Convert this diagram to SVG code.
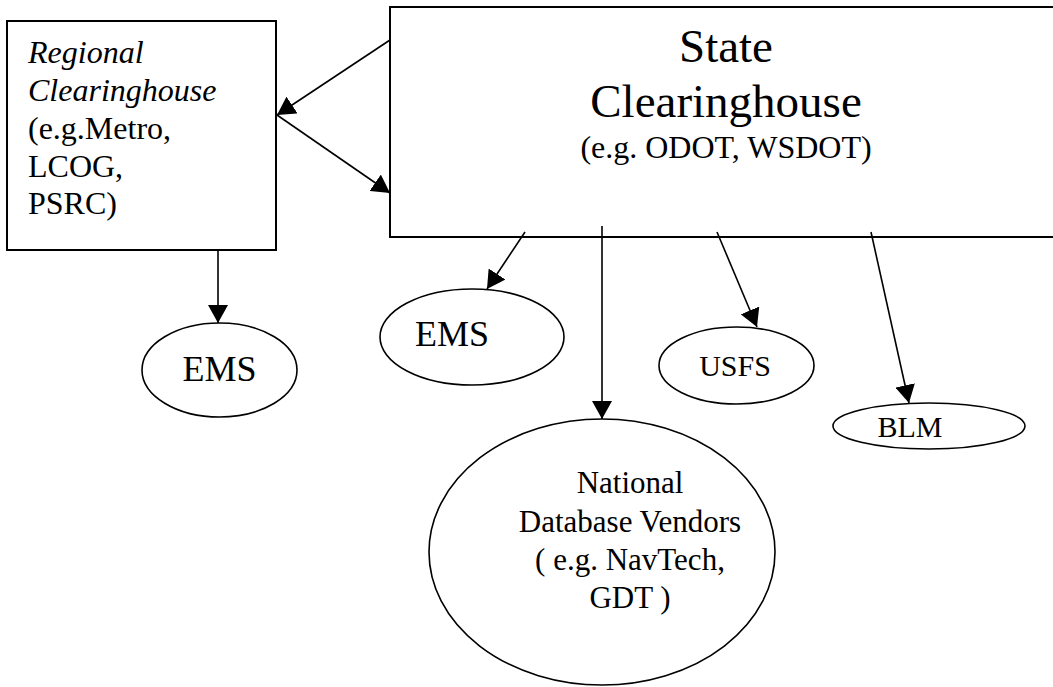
<svg xmlns="http://www.w3.org/2000/svg" width="1053" height="687" viewBox="0 0 1053 687">
<style>
.box{fill:#fff;stroke:#000;stroke-width:2}
.ell{fill:#fff;stroke:#000;stroke-width:1.6}
.t{font-family:"Liberation Serif","Times New Roman",serif;fill:#000}
.c{stroke:#000;stroke-width:1.6;fill:none;marker-end:url(#ah)}
</style>
<defs>
<marker id="ah" markerUnits="userSpaceOnUse" markerWidth="20" markerHeight="20" refX="18" refY="10" orient="auto">
<path d="M0,0 L18,10 L0,20 z" fill="#000"/>
</marker>
</defs>
<rect width="1053" height="687" fill="#fff"/>
<g id="regional">
<rect class="box" x="7" y="21" width="269" height="229"/>
<text class="t" font-size="32" font-style="italic" x="28" y="63">Regional</text>
<text class="t" font-size="32" font-style="italic" x="28" y="101">Clearinghouse</text>
<text class="t" font-size="32" x="28" y="139">(e.g.Metro,</text>
<text class="t" font-size="32" x="28" y="177">LCOG,</text>
<text class="t" font-size="32" x="28" y="214">PSRC)</text>
</g>
<g id="state">
<rect class="box" x="390" y="7" width="680" height="230"/>
<text class="t" font-size="47" text-anchor="middle" x="726" y="62">State</text>
<text class="t" font-size="47" text-anchor="middle" x="726" y="117">Clearinghouse</text>
<text class="t" font-size="32" text-anchor="middle" x="726" y="158">(e.g. ODOT, WSDOT)</text>
</g>
<g id="ems1">
<ellipse class="ell" cx="219.5" cy="370" rx="77.5" ry="47"/>
<text class="t" font-size="36" text-anchor="middle" x="219.5" y="381">EMS</text>
</g>
<g id="ems2">
<ellipse class="ell" cx="472" cy="337" rx="92" ry="48"/>
<text class="t" font-size="36" x="415" y="346">EMS</text>
</g>
<g id="usfs">
<ellipse class="ell" cx="736.5" cy="365.5" rx="77.5" ry="38.5"/>
<text class="t" font-size="30" text-anchor="middle" x="735" y="376">USFS</text>
</g>
<g id="blm">
<ellipse class="ell" cx="929" cy="426" rx="96" ry="23"/>
<text class="t" font-size="30" text-anchor="middle" x="910" y="437">BLM</text>
</g>
<g id="national">
<ellipse class="ell" cx="602" cy="552" rx="173" ry="133"/>
<text class="t" font-size="31" text-anchor="middle" x="630" y="493">National</text>
<text class="t" font-size="31" text-anchor="middle" x="630" y="532">Database Vendors</text>
<text class="t" font-size="31" text-anchor="middle" x="630" y="570">( e.g. NavTech,</text>
<text class="t" font-size="31" text-anchor="middle" x="630" y="608">GDT )</text>
</g>
<g id="connectors">
<line class="c" x1="390" y1="40" x2="277" y2="115"/>
<line class="c" x1="277" y1="115" x2="390" y2="193"/>
<line class="c" x1="218" y1="250" x2="218" y2="323"/>
<line class="c" x1="525" y1="232" x2="487" y2="289"/>
<line class="c" x1="602" y1="226" x2="602" y2="419"/>
<line class="c" x1="717" y1="232" x2="757" y2="327"/>
<line class="c" x1="871" y1="232" x2="909" y2="403"/>
</g>
</svg>
